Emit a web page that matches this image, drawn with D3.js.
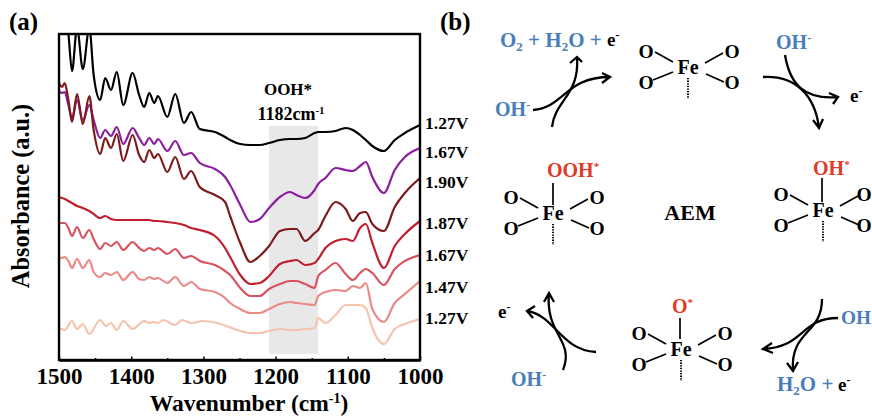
<!DOCTYPE html>
<html>
<head>
<meta charset="utf-8">
<script src="https://cdnjs.cloudflare.com/ajax/libs/d3/7.8.5/d3.min.js"></script>
<style>
    html, body { margin: 0; padding: 0; background: #fff; }
    svg { display: block; }
    text { font-family: "Liberation Serif", serif; font-weight: bold; fill: #000; }
</style>
</head>
<body>
<svg id="chart" width="872" height="416"></svg>
<script>

// ----------------------------------------- Data -----------------------------------------

// Shared wavenumbers of the six upper spectra
var wavenumbers = [1500,1496,1492,1487,1482,1475,1467,1458,1452,1443,1436,1428,1420,1411,1398,1389,1382,1375,1368,1363,1350,1339,1327,1317,1305,1284,1270,1263,1249,1235,1222,1209,1194,1180,1171,1159,1146,1141,1131,1117,1103,1093,1083,1075,1066,1050,1035,1021,1000];

// The lowest spectrum has its wiggles in other places
var wavenumbersLow = [1500,1496,1492,1482,1475,1467,1458,1443,1435,1428,1420,1411,1398,1382,1375,1370,1363,1356,1339,1330,1316,1301,1281,1249,1235,1222,1209,1194,1180,1171,1159,1146,1141,1131,1117,1103,1093,1083,1075,1066,1050,1035,1021,1000];

var black127 = [350,350,345,326,289,332,291,332,285,260,282,270,288,255,287,265,253,267,257,264,243,266,237,248,231,228,223,220,216,215,215,217,220,221,221,222,227,228,228,229,232,230,225,220,214,209,220,227,235];
var purple167 = [269,267,268,255,242,260,240,255,240,222,230,224,233,216,232,222,215,222,216,221,209,219,205,207,197,191,183,175,155,138,141,152,163,168,165,162,170,176,182,192,190,189,194,198,183,167,190,203,212];
var brown190 = [277,273,277,260,238,266,236,264,230,206,222,212,226,199,225,205,198,210,202,206,188,203,181,189,173,165,158,144,117,98,104,114,129,131,131,119,127,130,144,158,151,139,147,148,136,129,153,167,182];
var red187 = [163,162,161,159,157,154,152,149,146,142,144,141,140,140,140,140,140,140,139,139,138,137,135,132,130,124,112,103,85,76,77,84,96,99,100,95,97,101,112,119,121,119,132,136,117,92,114,126,139];
var rose167 = [137,137,137,132,124,133,122,130,121,111,117,114,118,110,118,112,109,112,110,112,106,111,102,104,99,95,89,85,72,64,64,71,76,79,79,76,72,84,90,97,86,80,87,91,87,75,91,99,105];
var salmon147 = [103,102,103,99,92,101,92,100,88,83,87,85,88,80,88,81,80,83,81,82,77,83,74,78,71,68,62,57,51,47,47,51,56,58,57,56,55,64,68,70,69,74,72,77,51,38,57,66,79];
var peach127 = [32,31,30,39,31,36,26,40,34,37,30,39,31,39,37,38,37,40,35,40,37,39,37,29,27,27,29,31,30,30,31,32,42,37,45,55,55,55,52,32,16,31,36,41];

var seriesColors = ["#000000", "#8b1f9e", "#7d1a1c", "#c01f2c", "#d9545f", "#ea8985", "#f5c3ae"];
var voltageLabels = ["1.27V", "1.67V", "1.90V", "1.87V", "1.67V", "1.47V", "1.27V"];
var voltageHeights = [231, 202, 172, 131, 99, 67, 36];

var majorTicks = [1500, 1400, 1300, 1200, 1100, 1000];
var minorTicks = [1450, 1350, 1250, 1150, 1050];
var bandRange = [1209, 1141];
var bandHeights = [6, 234];

// ----------------------------------------- Chart (a) -----------------------------------------

var svg = d3.select("#chart");

var left = 59, right = 420, top_ = 34, bottom = 360;

var x = d3.scaleLinear().domain([1500, 1000]).range([left, right]);
var y = d3.scaleLinear().domain([0, 326]).range([bottom, top_]);

svg.append("defs").append("clipPath")
    .attr("id", "plotClip")
    .append("rect")
        .attr("x", left)
        .attr("y", top_)
        .attr("width", right - left)
        .attr("height", bottom - top_);

// Grey band behind the spectra
svg.append("rect")
    .attr("x", x(bandRange[0]))
    .attr("y", y(bandHeights[1]))
    .attr("width", x(bandRange[1]) - x(bandRange[0]))
    .attr("height", y(bandHeights[0]) - y(bandHeights[1]))
    .attr("fill", "#e8e8e8");

var line = d3.line()
    .x(d => x(d[0]))
    .y(d => y(d[1]))
    .curve(d3.curveMonotoneX);

var spectra = [
    d3.zip(wavenumbers, black127),
    d3.zip(wavenumbers, purple167),
    d3.zip(wavenumbers, brown190),
    d3.zip(wavenumbers, red187),
    d3.zip(wavenumbers, rose167),
    d3.zip(wavenumbers, salmon147),
    d3.zip(wavenumbersLow, peach127)
];

svg.append("g")
    .attr("clip-path", "url(#plotClip)")
    .selectAll("path")
    .data(spectra)
    .enter()
    .append("path")
        .attr("d", line)
        .attr("fill", "none")
        .attr("stroke", (d, i) => seriesColors[i])
        .attr("stroke-width", 2.2)
        .attr("stroke-linejoin", "round");

// Frame
svg.append("rect")
    .attr("x", left)
    .attr("y", top_)
    .attr("width", right - left)
    .attr("height", bottom - top_)
    .attr("fill", "none")
    .attr("stroke", "#000")
    .attr("stroke-width", 2.4);

// Axis with inward ticks
var axisMajor = svg.append("g")
    .attr("transform", `translate(0, ${bottom})`)
    .call(d3.axisBottom(x).tickValues(majorTicks).tickSizeInner(-3.5).tickSizeOuter(0).tickPadding(8).tickFormat(d3.format("d")));

axisMajor.select(".domain").attr("stroke-width", 2.4);
axisMajor.selectAll("line").attr("stroke-width", 1.5);
axisMajor.selectAll("text")
    .style("font-size", "23px")
    .style("font-family", '"Liberation Serif", serif');

svg.append("g")
    .attr("transform", `translate(0, ${bottom})`)
    .call(d3.axisBottom(x).tickValues(minorTicks).tickSizeInner(-2).tickSizeOuter(0).tickFormat(""))
    .call(g => g.select(".domain").remove())
    .selectAll("line").attr("stroke-width", 1.5);

svg.append("text")
    .attr("x", 249)
    .attr("y", 410.5)
    .attr("text-anchor", "middle")
    .style("font-size", "23.5px")
    .html('Wavenumber (cm<tspan dy="-8" font-size="14">-1</tspan><tspan dy="8">)</tspan>');

svg.append("text")
    .attr("transform", "translate(29, 196) rotate(-90)")
    .attr("text-anchor", "middle")
    .style("font-size", "24.3px")
    .text("Absorbance (a.u.)");

svg.append("text").attr("x", 9).attr("y", 30).style("font-size", "25px").text("(a)");
svg.append("text").attr("x", 440).attr("y", 30).style("font-size", "25px").text("(b)");

svg.append("text")
    .attr("x", 288).attr("y", 95)
    .attr("text-anchor", "middle")
    .style("font-size", "17px")
    .text("OOH*");

svg.append("text")
    .attr("x", 291).attr("y", 120)
    .attr("text-anchor", "middle")
    .style("font-size", "18px")
    .html('1182cm<tspan dy="-6" font-size="11">-1</tspan>');

svg.selectAll(".voltage")
    .data(voltageLabels)
    .enter()
    .append("text")
        .classed("voltage", true)
        .attr("x", 425)
        .attr("y", (d, i) => y(voltageHeights[i]))
        .style("font-size", "17.5px")
        .text(d => d);

// ----------------------------------------- Scheme (b) -----------------------------------------

var blue = "#4a7dbb";
var redText = "#e03a2a";

function label(px, py, size, color, html, anchor){
    svg.append("text")
        .attr("x", px)
        .attr("y", py)
        .attr("text-anchor", anchor || "start")
        .style("font-size", size + "px")
        .style("fill", color)
        .html(html);
}

function bond(x1, y1, x2, y2, dotted){
    svg.append("line")
        .attr("x1", x1).attr("y1", y1)
        .attr("x2", x2).attr("y2", y2)
        .attr("stroke", "#000")
        .attr("stroke-width", dotted ? 2 : 1.7)
        .attr("stroke-dasharray", dotted ? "1.3,1.3" : null);
}

// One Fe centre with its four oxygens and the dotted bond below
function feUnit(cx, cy, rightO){
    var r = rightO || 44;
    label(cx, cy + 6, 20, "#000", "Fe", "middle");
    [[-42, -16], [r, -16], [-42, 15], [r, 15]].forEach(function(o){
        label(cx + o[0], cy + o[1] + 6, 19.5, "#000", "O", "middle");
    });
    bond(cx - 33, cy - 16, cx - 15, cy - 6);
    bond(cx - 35, cy + 12, cx - 15, cy + 4);
    bond(cx + 17, cy - 5, cx + 35, cy - 15);
    bond(cx + 18, cy + 6, cx + 36, cy + 14);
    bond(cx, cy + 10, cx, cy + 31, true);
}

// Curved arrow: cubic path plus a two stroke head
function arrow(points, wingA, wingB){
    var p = d3.path();
    p.moveTo(points[0], points[1]);
    p.bezierCurveTo(points[2], points[3], points[4], points[5], points[6], points[7]);
    p.moveTo(wingA[0], wingA[1]);
    p.lineTo(points[6], points[7]);
    p.lineTo(wingB[0], wingB[1]);
    svg.append("path")
        .attr("d", p.toString())
        .attr("fill", "none")
        .attr("stroke", "#000")
        .attr("stroke-width", 2.3);
}

feUnit(688, 68);
feUnit(553, 214);
feUnit(823, 211, 41);
feUnit(681, 350);

// Upper ligands
bond(553, 183, 553, 205);
bond(822, 178, 822, 202);
bond(680, 318, 680, 339);

var sup = '<tspan dy="-7" font-size="11">*</tspan>';
var minus = '<tspan dy="-7" font-size="12">-</tspan>';
var sub2 = '<tspan dy="4" font-size="13">2</tspan>';

label(547, 177, 20, redText, "OOH" + sup);
label(813, 175, 20, redText, "OH" + sup);
label(672, 313, 20, redText, "O" + sup);
label(690, 220, 22, "#000", "AEM", "middle");

label(500, 47, 21, blue, "O" + sub2 + '<tspan dy="-4"> + H</tspan>' + sub2 + '<tspan dy="-4">O +</tspan>');
label(607, 46, 19, "#000", "e" + minus);
label(495, 116, 20, blue, "OH" + minus);
label(776, 49, 20, blue, "OH" + minus);
label(850, 102, 19, "#000", "e" + minus);
label(841, 324, 19.3, blue, "OH");
label(777, 391, 21, blue, "H" + sub2 + '<tspan dy="-4">O +</tspan>');
label(838, 391, 19, "#000", "e" + minus);
label(498, 318, 19, "#000", "e" + minus);
label(511, 386, 20, blue, "OH" + minus);

arrow([533, 110, 565, 107, 565, 77, 610, 77], [602, 73], [602, 83]);
arrow([552, 127, 555, 100, 580, 95, 577, 57], [570, 63], [582, 62]);
arrow([785, 55, 790, 85, 805, 100, 838, 97], [829, 93], [833, 104]);
arrow([763, 77, 795, 75, 815, 95, 819, 128], [813, 120], [823, 119]);
arrow([838, 318, 800, 318, 805, 347, 763, 349], [772, 343], [773, 353]);
arrow([822, 299, 822, 335, 790, 330, 793, 371], [787, 363], [798, 362]);
arrow([596, 352, 560, 350, 555, 315, 527, 311], [535, 306], [533, 318]);
arrow([563, 370, 575, 340, 545, 335, 549, 293], [544, 302], [554, 302]);

</script>
</body>
</html>
